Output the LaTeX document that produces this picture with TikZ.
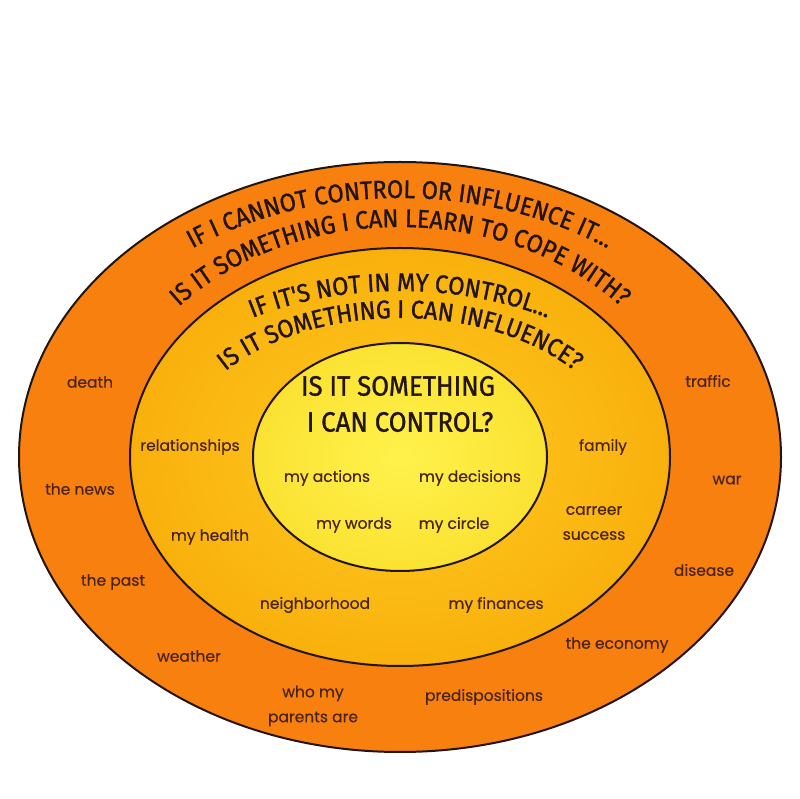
\documentclass[tikz,border=0pt]{standalone}
\usepackage{fontspec}
\setmainfont{Poppins}[FakeBold=0.5]
\newfontfamily\titlefont[FakeStretch=0.92, FakeBold=1.1]{Fira Sans}
\usetikzlibrary{decorations.text}
\definecolor{outerC}{HTML}{F7800F}
\definecolor{midIn}{HTML}{FFCC22}
\definecolor{midOut}{HTML}{F9B00C}
\definecolor{innerIn}{HTML}{FFF24C}
\definecolor{innerOut}{HTML}{FBE232}
\definecolor{titleC}{HTML}{22140E}
\definecolor{labelC}{HTML}{4A2418}
\newcommand{\ttlA}{\titlefont\fontsize{25.5}{25.5}\selectfont\color{titleC}}
\begin{document}
\begin{tikzpicture}[x=1pt,y=1pt,
  lbl/.style={font=\fontsize{15.5}{25}\selectfont, text=labelC, align=center, inner sep=0pt},
  ring/.style={draw=titleC, line width=2pt},
  bigttl/.style={font=\titlefont\fontsize{28}{36}\selectfont, text=titleC, inner sep=0pt}]
\useasboundingbox (0,0) rectangle (800,798);
\fill[white] (0,0) rectangle (800,798);
\coordinate (c) at (400,341);
% rings
\draw[ring, fill=outerC] (c) ellipse [x radius=381, y radius=295];
\shade[inner color=midIn, outer color=midOut] (c) ellipse [x radius=270, y radius=209];
\draw[ring] (c) ellipse [x radius=270, y radius=209];
\shade[inner color=innerIn, outer color=innerOut] (c) ellipse [x radius=147, y radius=114];
\draw[ring] (c) ellipse [x radius=147, y radius=114];
% curved titles, outer band
\path[decorate, decoration={text along path, text align=center,
  text={|\ttlA|IF I CANNOT CONTROL OR INFLUENCE IT...}}]
  (c) ++(175:350 and 259) arc[start angle=175, end angle=5, x radius=350, y radius=259];
\path[decorate, decoration={text along path, text align=center,
  text={|\ttlA|IS IT SOMETHING I CAN LEARN TO COPE WITH?}}]
  (c) ++(175:292 and 230) arc[start angle=175, end angle=5, x radius=292, y radius=230];
% curved titles, middle band
\path[decorate, decoration={text along path, text align=center,
  text={|\ttlA|IF IT'S NOT IN MY CONTROL...}}]
  (c) ++(175:270 and 166) arc[start angle=175, end angle=5, x radius=270, y radius=166];
\path[decorate, decoration={text along path, text align=center,
  text={|\ttlA|IS IT SOMETHING I CAN INFLUENCE?}}]
  (c) ++(175:222 and 139) arc[start angle=175, end angle=5, x radius=222, y radius=139];
% inner title
\node[bigttl] (q1) at (398,412) {IS IT SOMETHING};
\node[bigttl] (q2) at (400,376) {I CAN CONTROL?};
% inner labels
\node[lbl] (actions) at (327,320) {my actions};
\node[lbl] (decisions) at (470,320) {my decisions};
\node[lbl] (words) at (354,273) {my words};
\node[lbl] (circle) at (454,273) {my circle};
% middle labels
\node[lbl] (relationships) at (190,351) {relationships};
\node[lbl] (family) at (603,351) {family};
\node[lbl] (career) at (594,275) {carreer\\success};
\node[lbl] (health) at (210,261) {my health};
\node[lbl] (neighborhood) at (315,193) {neighborhood};
\node[lbl] (finances) at (496,193) {my finances};
% outer labels
\node[lbl] (death) at (90,416) {death};
\node[lbl] (traffic) at (708,417) {traffic};
\node[lbl] (news) at (80,309) {the news};
\node[lbl] (war) at (727,318) {war};
\node[lbl] (disease) at (704,228) {disease};
\node[lbl] (past) at (113,216) {the past};
\node[lbl] (economy) at (617,153) {the economy};
\node[lbl] (weather) at (189,142) {weather};
\node[lbl] (parents) at (313,92) {who my\\parents are};
\node[lbl] (predisp) at (484,101) {predispositions};
\end{tikzpicture}
\end{document}
